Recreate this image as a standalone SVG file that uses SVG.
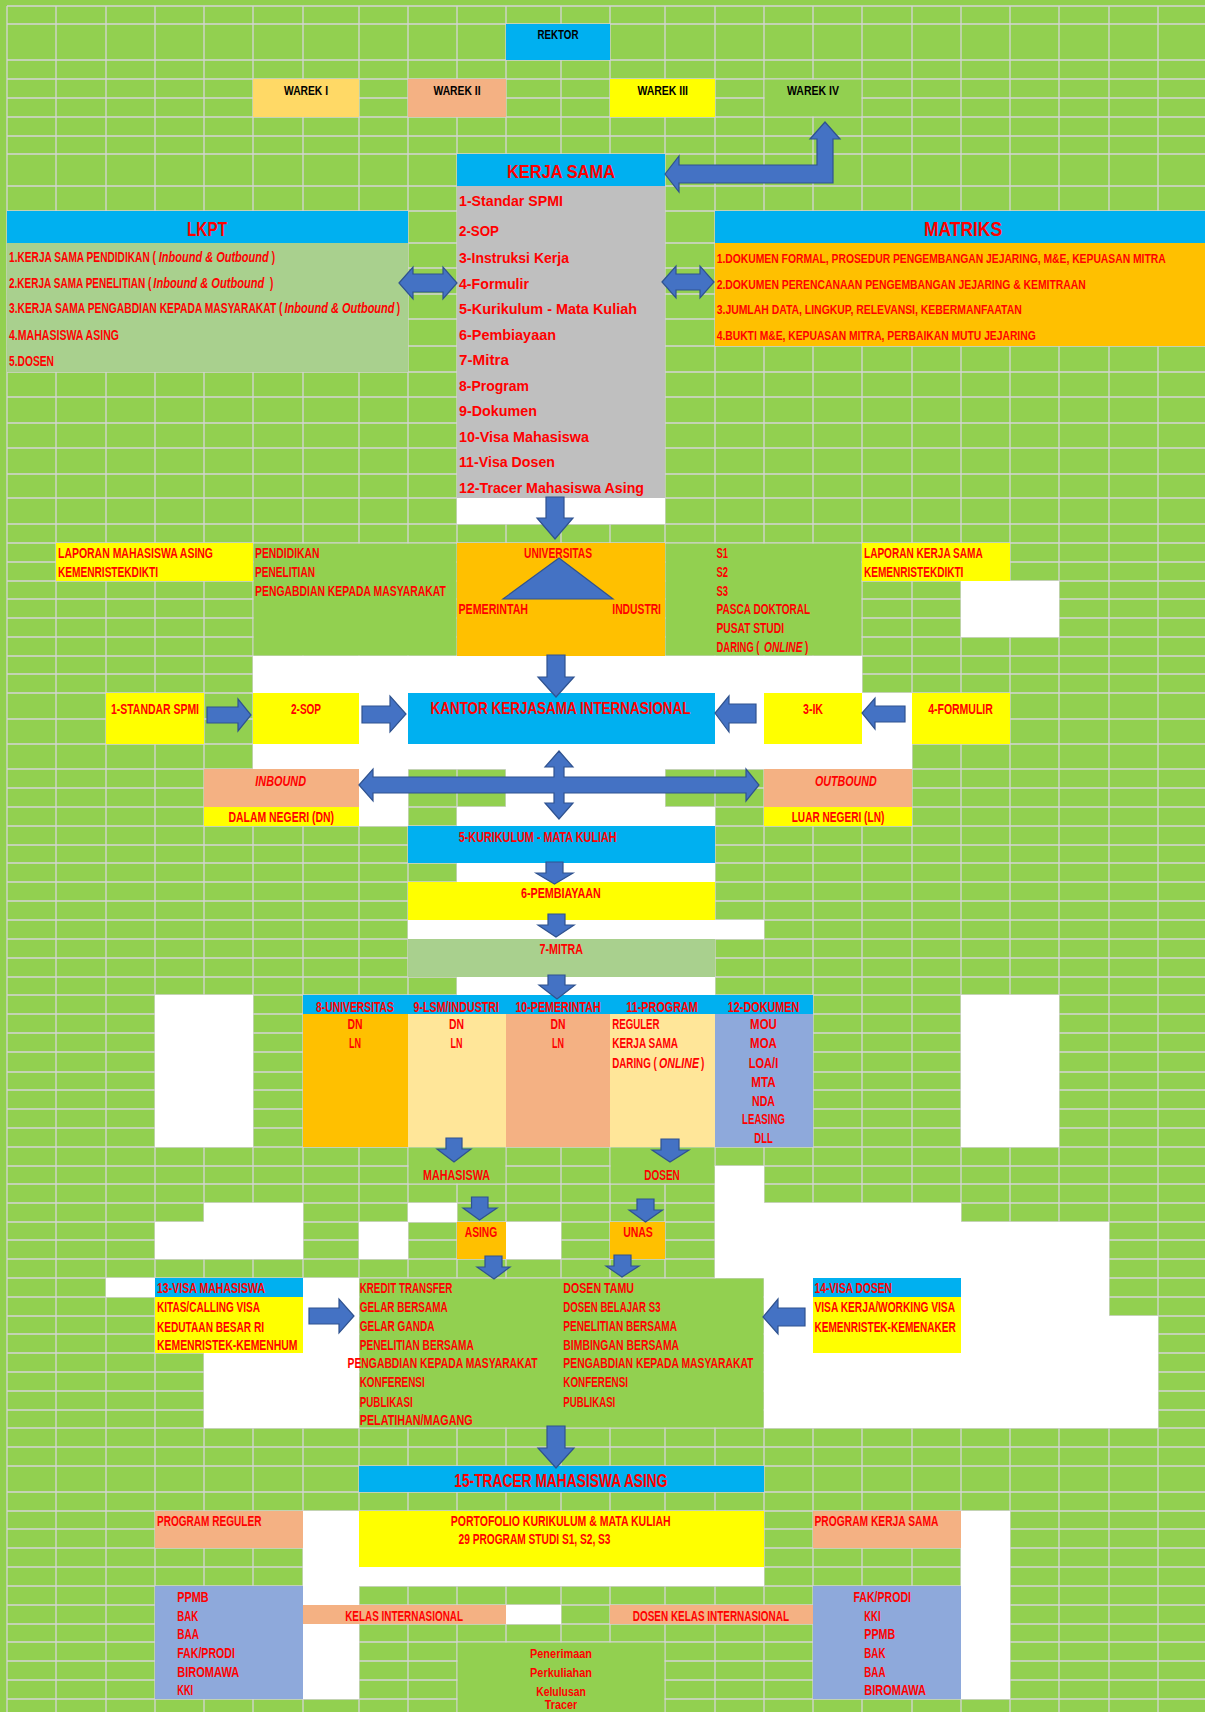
<svg xmlns="http://www.w3.org/2000/svg" width="1205" height="1712" viewBox="0 0 1205 1712">
<style>
.bg{fill:#92D050}
.grid{stroke:#D4D4D4;stroke-width:1.3;fill:none}
.w{fill:#FFFFFF}
.g{fill:#92D050}
.blue{fill:#00B0F0}
.yel{fill:#FFFF00}
.org{fill:#FFC000}
.pch{fill:#F4B183}
.lyl{fill:#FFE699}
.gld{fill:#FFD966}
.lgr{fill:#A9D08E}
.gry{fill:#BFBFBF}
.bgr{fill:#8EA9DB}
.arr{fill:#4472C4;stroke:#2F528F;stroke-width:1.2;stroke-linejoin:miter}
text{font-family:"Liberation Sans Narrow","Liberation Sans",Arial,sans-serif;font-weight:bold;fill:#FF0000;font-size:14px}
.k{fill:#000000;font-size:12.5px}
.t20{font-size:20px}
.t19{font-size:19px}
.t18{font-size:18px}
.t16{font-size:16.5px}
.t15{font-size:15.5px}
.t145{font-size:14.5px}
.t13{font-size:13.5px}
.t12{font-size:12.5px}
.m13{font-size:13px}
.i{font-style:italic}
</style>
<rect class="bg" x="0" y="0" width="1205" height="1712"/>
<path class="grid" d="M7 6V1712M56 6V1712M106 6V1712M155 6V1712M204 6V1712M253 6V1712M303 6V1712M359 6V1712M408 6V1712M457 6V1712M506 6V1712M561 6V1712M610 6V1712M665 6V1712M715 6V1712M764 6V1712M813 6V1712M862 6V1712M912 6V1712M961 6V1712M1010 6V1712M1059 6V1712M1109 6V1712M1158 6V1712
M7 6H1205M7 24H1205M7 60H1205M7 79H1205M7 98H1205M7 117H1205M7 136H1205M7 154H1205M7 186H1205M7 211H1205M7 243H1205M7 268H1205M7 294H1205M7 319H1205M7 346H1205M7 372H1205M7 397H1205M7 423H1205M7 448H1205M7 474H1205M7 498H1205M7 524H1205M7 543H1205M7 562H1205M7 581H1205M7 599H1205M7 618H1205M7 637H1205M7 656H1205M7 674H1205M7 693H1205M7 719H1205M7 744H1205M7 769H1205M7 788H1205M7 807H1205M7 826H1205M7 845H1205M7 863H1205M7 882H1205M7 901H1205M7 920H1205M7 939H1205M7 958H1205M7 977H1205M7 995H1205M7 1014H1205M7 1033H1205M7 1052H1205M7 1072H1205M7 1090H1205M7 1109H1205M7 1128H1205M7 1147H1205M7 1166H1205M7 1184H1205M7 1203H1205M7 1222H1205M7 1240H1205M7 1259H1205M7 1278H1205M7 1297H1205M7 1316H1205M7 1334H1205M7 1353H1205M7 1372H1205M7 1391H1205M7 1410H1205M7 1428H1205M7 1447H1205M7 1466H1205M7 1492H1205M7 1511H1205M7 1529H1205M7 1548H1205M7 1567H1205M7 1586H1205M7 1605H1205M7 1624H1205M7 1642H1205M7 1661H1205M7 1680H1205M7 1699H1205"/>

<g id="cells">
<rect class="w" x="961" y="581" width="98" height="56"/>
<rect class="w" x="253" y="656" width="609" height="37"/>
<rect class="w" x="359" y="693" width="49" height="51"/>
<rect class="w" x="715" y="693" width="49" height="51"/>
<rect class="w" x="862" y="693" width="50" height="51"/>
<rect class="w" x="253" y="744" width="659" height="25"/>
<rect class="w" x="359" y="769" width="49" height="57"/>
<rect class="w" x="506" y="769" width="159" height="38"/>
<rect class="w" x="457" y="807" width="258" height="19"/>
<rect class="w" x="457" y="863" width="258" height="19"/>
<rect class="w" x="408" y="920" width="356" height="19"/>
<rect class="w" x="457" y="977" width="258" height="18"/>
<rect class="w" x="155" y="995" width="98" height="152"/>
<rect class="w" x="961" y="995" width="98" height="152"/>
<rect class="w" x="715" y="1166" width="49" height="112"/>
<rect class="w" x="764" y="1203" width="197" height="75"/>
<rect class="w" x="961" y="1222" width="148" height="94"/>
<rect class="w" x="764" y="1278" width="49" height="75"/>
<rect class="w" x="961" y="1316" width="197" height="112"/>
<rect class="w" x="764" y="1353" width="197" height="75"/>
<rect class="w" x="204" y="1203" width="99" height="19"/>
<rect class="w" x="155" y="1222" width="148" height="37"/>
<rect class="w" x="359" y="1222" width="49" height="37"/>
<rect class="w" x="408" y="1203" width="49" height="19"/>
<rect class="w" x="506" y="1222" width="55" height="37"/>
<rect class="w" x="106" y="1278" width="49" height="19"/>
<rect class="w" x="303" y="1278" width="56" height="150"/>
<rect class="w" x="204" y="1353" width="99" height="75"/>
<rect class="w" x="303" y="1511" width="56" height="188"/>
<rect class="w" x="303" y="1567" width="461" height="19"/>
<rect class="w" x="506" y="1605" width="55" height="19"/>
<rect class="w" x="961" y="1511" width="49" height="188"/>
<rect class="g" x="253.7" y="543.7" width="202.6" height="111.6"/>
<rect class="g" x="665.7" y="543.7" width="195.6" height="111.6"/>
<rect class="g" x="408.7" y="1147.7" width="96.6" height="35.6"/>
<rect class="g" x="610.7" y="1147.7" width="103.6" height="35.6"/>
<rect class="g" x="359.7" y="1278.7" width="403.6" height="148.6"/>
<rect class="g" x="457.7" y="1642.7" width="206.6" height="70"/>
</g>

<g id="rektor"><rect class="blue" x="506" y="24" width="104" height="36"/><text class="k" x="558" y="39" text-anchor="middle" textLength="41" lengthAdjust="spacingAndGlyphs">REKTOR</text></g>
<g id="warek1"><rect class="gld" x="253" y="79" width="106" height="38"/><text class="k" x="306" y="94.5" text-anchor="middle" textLength="44" lengthAdjust="spacingAndGlyphs">WAREK I</text></g>
<g id="warek2"><rect class="pch" x="408" y="79" width="98" height="38"/><text class="k" x="457" y="94.5" text-anchor="middle" textLength="47" lengthAdjust="spacingAndGlyphs">WAREK II</text></g>
<g id="warek3"><rect class="yel" x="610" y="79" width="105" height="38"/><text class="k" x="662.7" y="94.5" text-anchor="middle" textLength="50.6" lengthAdjust="spacingAndGlyphs">WAREK III</text></g>
<g id="warek4"><rect class="g" x="764.7" y="79.7" width="96.6" height="36.6"/><text class="k" x="813" y="94.5" text-anchor="middle" textLength="52" lengthAdjust="spacingAndGlyphs">WAREK IV</text></g>

<g id="kerja-sama">
<rect class="blue" x="457" y="154" width="208" height="32"/>
<rect class="gry" x="457" y="186" width="208" height="312"/>
<rect class="w" x="457" y="498" width="208" height="26"/>
<text class="t19" x="561" y="178" text-anchor="middle" textLength="108" lengthAdjust="spacingAndGlyphs">KERJA SAMA</text>
<text class="t15" x="459" y="206" textLength="104" lengthAdjust="spacingAndGlyphs">1-Standar SPMI</text>
<text class="t15" x="459" y="236" textLength="40" lengthAdjust="spacingAndGlyphs">2-SOP</text>
<text class="t15" x="459" y="262.5" textLength="110" lengthAdjust="spacingAndGlyphs">3-Instruksi Kerja</text>
<text class="t15" x="459" y="288.5" textLength="70" lengthAdjust="spacingAndGlyphs">4-Formulir</text>
<text class="t15" x="459" y="313.5" textLength="178" lengthAdjust="spacingAndGlyphs">5-Kurikulum - Mata Kuliah</text>
<text class="t15" x="459" y="339.5" textLength="97" lengthAdjust="spacingAndGlyphs">6-Pembiayaan</text>
<text class="t15" x="459" y="364.5" textLength="50" lengthAdjust="spacingAndGlyphs">7-Mitra</text>
<text class="t15" x="459" y="390.5" textLength="70" lengthAdjust="spacingAndGlyphs">8-Program</text>
<text class="t15" x="459" y="415.5" textLength="78" lengthAdjust="spacingAndGlyphs">9-Dokumen</text>
<text class="t15" x="459" y="441.5" textLength="130" lengthAdjust="spacingAndGlyphs">10-Visa Mahasiswa</text>
<text class="t15" x="459" y="466.5" textLength="96" lengthAdjust="spacingAndGlyphs">11-Visa Dosen</text>
<text class="t15" x="459" y="492.5" textLength="185" lengthAdjust="spacingAndGlyphs">12-Tracer Mahasiswa Asing</text>
</g>

<g id="lkpt">
<rect class="blue" x="7" y="211" width="401" height="32"/>
<rect class="lgr" x="7" y="243" width="401" height="129"/>
<text class="t20" x="207" y="236" text-anchor="middle" textLength="40" lengthAdjust="spacingAndGlyphs">LKPT</text>
<text class="t145" transform="translate(9 262) scale(0.696 1)" textLength="211.1" lengthAdjust="spacingAndGlyphs">1.KERJA SAMA PENDIDIKAN (</text>
<text class="t145 i" transform="translate(158.7 262) scale(0.759 1)" textLength="145" lengthAdjust="spacingAndGlyphs">Inbound &amp; Outbound</text>
<text class="t145" x="271.7" y="262" textLength="3.3" lengthAdjust="spacingAndGlyphs">)</text>
<text class="t145" transform="translate(9 288) scale(0.688 1)" textLength="207" lengthAdjust="spacingAndGlyphs">2.KERJA SAMA PENELITIAN (</text>
<text class="t145 i" transform="translate(153.3 288) scale(0.766 1)" textLength="145" lengthAdjust="spacingAndGlyphs">Inbound &amp; Outbound</text>
<text class="t145" x="270" y="288" textLength="3.3" lengthAdjust="spacingAndGlyphs">)</text>
<text class="t145" transform="translate(9 312.6) scale(0.7 1)" textLength="390.7" lengthAdjust="spacingAndGlyphs">3.KERJA SAMA PENGABDIAN KEPADA MASYARAKAT (</text>
<text class="t145 i" transform="translate(284.5 312.6) scale(0.759 1)" textLength="145" lengthAdjust="spacingAndGlyphs">Inbound &amp; Outbound</text>
<text class="t145" x="396.7" y="312.6" textLength="3.3" lengthAdjust="spacingAndGlyphs">)</text>
<text class="t145" x="9" y="340.3" textLength="110" lengthAdjust="spacingAndGlyphs">4.MAHASISWA ASING</text>
<text class="t145" x="9" y="366" textLength="45" lengthAdjust="spacingAndGlyphs">5.DOSEN</text>
</g>

<g id="matriks">
<rect class="blue" x="715" y="211" width="490" height="32"/>
<rect class="org" x="715" y="243" width="490" height="103"/>
<text class="t20" x="963" y="236" text-anchor="middle" textLength="78" lengthAdjust="spacingAndGlyphs">MATRIKS</text>
<text class="m13" transform="translate(716.7 263.3) scale(0.795 1)" textLength="564.8" lengthAdjust="spacingAndGlyphs">1.DOKUMEN FORMAL, PROSEDUR PENGEMBANGAN JEJARING, M&amp;E, KEPUASAN MITRA</text>
<text class="m13" x="716.7" y="289.3" textLength="369" lengthAdjust="spacingAndGlyphs">2.DOKUMEN PERENCANAAN PENGEMBANGAN JEJARING &amp; KEMITRAAN</text>
<text class="m13" x="716.7" y="314" textLength="305" lengthAdjust="spacingAndGlyphs">3.JUMLAH DATA, LINGKUP, RELEVANSI, KEBERMANFAATAN</text>
<text class="m13" x="716.7" y="340" textLength="319" lengthAdjust="spacingAndGlyphs">4.BUKTI M&amp;E, KEPUASAN MITRA, PERBAIKAN MUTU JEJARING</text>
</g>

<g id="laporan-mahasiswa">
<rect class="yel" x="56" y="543" width="197" height="38"/>
<text transform="translate(58 558.3) scale(0.741 1)" textLength="209.2" lengthAdjust="spacingAndGlyphs">LAPORAN MAHASISWA ASING</text>
<text x="58" y="576.7" textLength="100" lengthAdjust="spacingAndGlyphs">KEMENRISTEKDIKTI</text>
</g>
<g id="bidang">
<text x="255" y="558.3" textLength="64.6" lengthAdjust="spacingAndGlyphs">PENDIDIKAN</text>
<text x="255" y="576.7" textLength="60" lengthAdjust="spacingAndGlyphs">PENELITIAN</text>
<text x="255" y="595.7" textLength="190.8" lengthAdjust="spacingAndGlyphs">PENGABDIAN KEPADA MASYARAKAT</text>
</g>
<g id="universitas">
<rect class="org" x="457" y="543" width="208" height="113"/>
<polygon class="arr" points="559,558 503,599 613,599"/>
<text x="558" y="558.3" text-anchor="middle" textLength="68" lengthAdjust="spacingAndGlyphs">UNIVERSITAS</text>
<text x="458.5" y="614.3" textLength="69.5" lengthAdjust="spacingAndGlyphs">PEMERINTAH</text>
<text x="612.3" y="614.3" textLength="48.7" lengthAdjust="spacingAndGlyphs">INDUSTRI</text>
</g>
<g id="jenjang">
<text x="716.5" y="558.3" textLength="11.6" lengthAdjust="spacingAndGlyphs">S1</text>
<text x="716.5" y="576.7" textLength="11.6" lengthAdjust="spacingAndGlyphs">S2</text>
<text x="716.5" y="595.7" textLength="11.6" lengthAdjust="spacingAndGlyphs">S3</text>
<text x="716.5" y="614.3" textLength="93.7" lengthAdjust="spacingAndGlyphs">PASCA DOKTORAL</text>
<text x="716.5" y="633" textLength="67.5" lengthAdjust="spacingAndGlyphs">PUSAT STUDI</text>
<text transform="translate(716.5 652) scale(0.674 1)" textLength="63.8" lengthAdjust="spacingAndGlyphs">DARING (</text>
<text class="i" transform="translate(764 652) scale(0.728 1)" textLength="52.9" lengthAdjust="spacingAndGlyphs">ONLINE</text>
<text x="805" y="652" textLength="3.3" lengthAdjust="spacingAndGlyphs">)</text>
</g>
<g id="laporan-kerja-sama">
<rect class="yel" x="862" y="543" width="148" height="38"/>
<text x="864" y="558.3" textLength="118.7" lengthAdjust="spacingAndGlyphs">LAPORAN KERJA SAMA</text>
<text x="864" y="576.7" textLength="99.4" lengthAdjust="spacingAndGlyphs">KEMENRISTEKDIKTI</text>
</g>

<g id="standar-spmi"><rect class="yel" x="106" y="693" width="98" height="51"/><text x="111" y="714" textLength="88" lengthAdjust="spacingAndGlyphs">1-STANDAR SPMI</text></g>
<g id="sop"><rect class="yel" x="253" y="693" width="106" height="51"/><text x="306" y="714" text-anchor="middle" textLength="30" lengthAdjust="spacingAndGlyphs">2-SOP</text></g>
<g id="kantor"><rect class="blue" x="408" y="693" width="307" height="51"/><text class="t16" x="430.5" y="713.5" textLength="260" lengthAdjust="spacingAndGlyphs">KANTOR KERJASAMA INTERNASIONAL</text></g>
<g id="ik"><rect class="yel" x="764" y="693" width="98" height="51"/><text x="813" y="714" text-anchor="middle" textLength="20" lengthAdjust="spacingAndGlyphs">3-IK</text></g>
<g id="formulir"><rect class="yel" x="912" y="693" width="98" height="51"/><text x="960.5" y="714" text-anchor="middle" textLength="64.7" lengthAdjust="spacingAndGlyphs">4-FORMULIR</text></g>
<g id="inbound">
<rect class="pch" x="204" y="769" width="155" height="38"/>
<rect class="yel" x="204" y="807" width="155" height="19"/>
<text class="i" x="255.3" y="785.7" textLength="50.7" lengthAdjust="spacingAndGlyphs">INBOUND</text>
<text x="228.5" y="822.3" textLength="105.5" lengthAdjust="spacingAndGlyphs">DALAM NEGERI (DN)</text>
</g>
<g id="outbound">
<rect class="pch" x="764" y="769" width="148" height="38"/>
<rect class="yel" x="764" y="807" width="148" height="19"/>
<text class="i" x="815" y="785.7" textLength="61.7" lengthAdjust="spacingAndGlyphs">OUTBOUND</text>
<text x="791.7" y="822.3" textLength="92.6" lengthAdjust="spacingAndGlyphs">LUAR NEGERI (LN)</text>
</g>
<g id="kurikulum"><rect class="blue" x="408" y="826" width="307" height="37"/><text x="458.7" y="841.7" textLength="158" lengthAdjust="spacingAndGlyphs">5-KURIKULUM - MATA KULIAH</text></g>
<g id="pembiayaan"><rect class="yel" x="408" y="882" width="307" height="38"/><text x="521" y="898.3" textLength="79.7" lengthAdjust="spacingAndGlyphs">6-PEMBIAYAAN</text></g>
<g id="mitra"><rect class="lgr" x="408" y="939" width="307" height="38"/><text x="539.5" y="954.3" textLength="43.5" lengthAdjust="spacingAndGlyphs">7-MITRA</text></g>

<g id="col-universitas">
<rect class="blue" x="303" y="995" width="105" height="19"/><rect class="org" x="303" y="1014" width="105" height="133"/>
<text x="316" y="1011.7" textLength="78" lengthAdjust="spacingAndGlyphs">8-UNIVERSITAS</text>
<text x="355" y="1029.3" text-anchor="middle" textLength="15" lengthAdjust="spacingAndGlyphs">DN</text>
<text x="355" y="1048.3" text-anchor="middle" textLength="12" lengthAdjust="spacingAndGlyphs">LN</text>
</g>
<g id="col-lsm">
<rect class="blue" x="408" y="995" width="98" height="19"/><rect class="lyl" x="408" y="1014" width="98" height="133"/>
<text x="413.5" y="1011.7" textLength="85.5" lengthAdjust="spacingAndGlyphs">9-LSM/INDUSTRI</text>
<text x="456.5" y="1029.3" text-anchor="middle" textLength="15" lengthAdjust="spacingAndGlyphs">DN</text>
<text x="456.5" y="1048.3" text-anchor="middle" textLength="12" lengthAdjust="spacingAndGlyphs">LN</text>
</g>
<g id="col-pemerintah">
<rect class="blue" x="506" y="995" width="104" height="19"/><rect class="pch" x="506" y="1014" width="104" height="133"/>
<text x="515.4" y="1011.7" textLength="85.3" lengthAdjust="spacingAndGlyphs">10-PEMERINTAH</text>
<text x="558" y="1029.3" text-anchor="middle" textLength="15" lengthAdjust="spacingAndGlyphs">DN</text>
<text x="558" y="1048.3" text-anchor="middle" textLength="12" lengthAdjust="spacingAndGlyphs">LN</text>
</g>
<g id="col-program">
<rect class="blue" x="610" y="995" width="105" height="19"/><rect class="lyl" x="610" y="1014" width="105" height="133"/>
<text x="626.3" y="1011.7" textLength="71.6" lengthAdjust="spacingAndGlyphs">11-PROGRAM</text>
<text x="612.2" y="1029.3" textLength="47.4" lengthAdjust="spacingAndGlyphs">REGULER</text>
<text x="612.2" y="1048.3" textLength="65.8" lengthAdjust="spacingAndGlyphs">KERJA SAMA</text>
<text transform="translate(612.2 1067.7) scale(0.698 1)" textLength="63.8" lengthAdjust="spacingAndGlyphs">DARING (</text>
<text class="i" transform="translate(659 1067.7) scale(0.756 1)" textLength="52.9" lengthAdjust="spacingAndGlyphs">ONLINE</text>
<text x="701" y="1067.7" textLength="3.3" lengthAdjust="spacingAndGlyphs">)</text>
</g>
<g id="col-dokumen">
<rect class="blue" x="715" y="995" width="98" height="19"/><rect class="bgr" x="715" y="1014" width="98" height="133"/>
<text x="727.8" y="1011.7" textLength="71.6" lengthAdjust="spacingAndGlyphs">12-DOKUMEN</text>
<text x="763.5" y="1029.3" text-anchor="middle" textLength="26.8" lengthAdjust="spacingAndGlyphs">MOU</text>
<text x="763.5" y="1048.3" text-anchor="middle" textLength="26.8" lengthAdjust="spacingAndGlyphs">MOA</text>
<text x="763.5" y="1067.7" text-anchor="middle" textLength="29.5" lengthAdjust="spacingAndGlyphs">LOA/I</text>
<text x="763.5" y="1086.7" text-anchor="middle" textLength="24.5" lengthAdjust="spacingAndGlyphs">MTA</text>
<text x="763.5" y="1105.7" text-anchor="middle" textLength="23" lengthAdjust="spacingAndGlyphs">NDA</text>
<text x="763.5" y="1124.3" text-anchor="middle" textLength="42.9" lengthAdjust="spacingAndGlyphs">LEASING</text>
<text x="763.5" y="1142.7" text-anchor="middle" textLength="18.4" lengthAdjust="spacingAndGlyphs">DLL</text>
</g>

<g id="mahasiswa"><text x="456.5" y="1180" text-anchor="middle" textLength="67" lengthAdjust="spacingAndGlyphs">MAHASISWA</text></g>
<g id="dosen"><text x="662" y="1180" text-anchor="middle" textLength="35.5" lengthAdjust="spacingAndGlyphs">DOSEN</text></g>
<g id="asing"><rect class="org" x="457" y="1222" width="49" height="37"/><text x="481" y="1237.3" text-anchor="middle" textLength="32.5" lengthAdjust="spacingAndGlyphs">ASING</text></g>
<g id="unas"><rect class="org" x="610" y="1222" width="55" height="37"/><text x="638" y="1237.3" text-anchor="middle" textLength="29.7" lengthAdjust="spacingAndGlyphs">UNAS</text></g>

<g id="visa-mahasiswa">
<rect class="blue" x="155" y="1278" width="148" height="19"/><rect class="yel" x="155" y="1297" width="148" height="56"/>
<text x="157" y="1293.3" textLength="108" lengthAdjust="spacingAndGlyphs">13-VISA MAHASISWA</text>
<text x="157" y="1312.3" textLength="103" lengthAdjust="spacingAndGlyphs">KITAS/CALLING VISA</text>
<text x="157" y="1331.7" textLength="107" lengthAdjust="spacingAndGlyphs">KEDUTAAN BESAR RI</text>
<text x="157" y="1350" textLength="140.5" lengthAdjust="spacingAndGlyphs">KEMENRISTEK-KEMENHUM</text>
</g>
<g id="kegiatan-mahasiswa">
<text x="359.7" y="1293.3" textLength="92.6" lengthAdjust="spacingAndGlyphs">KREDIT TRANSFER</text>
<text x="359.7" y="1312.3" textLength="88" lengthAdjust="spacingAndGlyphs">GELAR BERSAMA</text>
<text x="359.7" y="1331" textLength="74.7" lengthAdjust="spacingAndGlyphs">GELAR GANDA</text>
<text x="359.7" y="1350" textLength="114" lengthAdjust="spacingAndGlyphs">PENELITIAN BERSAMA</text>
<text transform="translate(347.5 1368.3) scale(0.73 1)" textLength="260.5" lengthAdjust="spacingAndGlyphs">PENGABDIAN KEPADA MASYARAKAT</text>
<text x="359.7" y="1387.3" textLength="65" lengthAdjust="spacingAndGlyphs">KONFERENSI</text>
<text x="359.7" y="1406.7" textLength="53" lengthAdjust="spacingAndGlyphs">PUBLIKASI</text>
<text x="359.7" y="1425" textLength="113" lengthAdjust="spacingAndGlyphs">PELATIHAN/MAGANG</text>
</g>
<g id="kegiatan-dosen">
<text x="563.3" y="1293.3" textLength="70.7" lengthAdjust="spacingAndGlyphs">DOSEN TAMU</text>
<text x="563.3" y="1312.3" textLength="97.3" lengthAdjust="spacingAndGlyphs">DOSEN BELAJAR S3</text>
<text x="563.3" y="1331" textLength="113.7" lengthAdjust="spacingAndGlyphs">PENELITIAN BERSAMA</text>
<text x="563.3" y="1350" textLength="115.8" lengthAdjust="spacingAndGlyphs">BIMBINGAN BERSAMA</text>
<text transform="translate(563.3 1368.3) scale(0.73 1)" textLength="260.5" lengthAdjust="spacingAndGlyphs">PENGABDIAN KEPADA MASYARAKAT</text>
<text x="563.3" y="1387.3" textLength="64.7" lengthAdjust="spacingAndGlyphs">KONFERENSI</text>
<text x="563.3" y="1406.7" textLength="52" lengthAdjust="spacingAndGlyphs">PUBLIKASI</text>
</g>
<g id="visa-dosen">
<rect class="blue" x="813" y="1278" width="148" height="19"/><rect class="yel" x="813" y="1297" width="148" height="56"/>
<text x="814.5" y="1293.3" textLength="77.5" lengthAdjust="spacingAndGlyphs">14-VISA DOSEN</text>
<text x="814.5" y="1312.3" textLength="140.5" lengthAdjust="spacingAndGlyphs">VISA KERJA/WORKING VISA</text>
<text x="814.5" y="1331.7" textLength="141.2" lengthAdjust="spacingAndGlyphs">KEMENRISTEK-KEMENAKER</text>
</g>

<g id="tracer"><rect class="blue" x="359" y="1466" width="405" height="26"/><text class="t18" x="454.3" y="1486.5" textLength="213.2" lengthAdjust="spacingAndGlyphs">15-TRACER MAHASISWA ASING</text></g>
<g id="program-reguler"><rect class="pch" x="155" y="1511" width="148" height="37"/><text x="157" y="1526" textLength="104.4" lengthAdjust="spacingAndGlyphs">PROGRAM REGULER</text></g>
<g id="portofolio">
<rect class="yel" x="359" y="1511" width="405" height="56"/>
<text x="450.8" y="1526" textLength="219.8" lengthAdjust="spacingAndGlyphs">PORTOFOLIO KURIKULUM &amp; MATA KULIAH</text>
<text x="458.5" y="1544.3" textLength="152" lengthAdjust="spacingAndGlyphs">29 PROGRAM STUDI S1, S2, S3</text>
</g>
<g id="program-kerja-sama"><rect class="pch" x="813" y="1511" width="148" height="37"/><text x="814.5" y="1526" textLength="123.9" lengthAdjust="spacingAndGlyphs">PROGRAM KERJA SAMA</text></g>
<g id="unit-reguler">
<rect class="bgr" x="155" y="1586" width="148" height="113"/>
<text x="177.2" y="1601.7" textLength="31.4" lengthAdjust="spacingAndGlyphs">PPMB</text>
<text x="177.2" y="1620.7" textLength="21" lengthAdjust="spacingAndGlyphs">BAK</text>
<text x="177.2" y="1639.3" textLength="21.8" lengthAdjust="spacingAndGlyphs">BAA</text>
<text x="177.2" y="1657.7" textLength="57.8" lengthAdjust="spacingAndGlyphs">FAK/PRODI</text>
<text x="177.2" y="1676.7" textLength="62" lengthAdjust="spacingAndGlyphs">BIROMAWA</text>
<text x="177.2" y="1695" textLength="16" lengthAdjust="spacingAndGlyphs">KKI</text>
</g>
<g id="kelas-internasional"><rect class="pch" x="303" y="1605" width="203" height="19"/><text x="345.2" y="1620.7" textLength="117.8" lengthAdjust="spacingAndGlyphs">KELAS INTERNASIONAL</text></g>
<g id="dosen-kelas-internasional"><rect class="pch" x="610" y="1605" width="203" height="19"/><text x="632.8" y="1620.7" textLength="156.2" lengthAdjust="spacingAndGlyphs">DOSEN KELAS INTERNASIONAL</text></g>
<g id="tahapan">
<text class="t13" x="561" y="1657.7" text-anchor="middle" textLength="62" lengthAdjust="spacingAndGlyphs">Penerimaan</text>
<text class="t13" x="561" y="1676.7" text-anchor="middle" textLength="62" lengthAdjust="spacingAndGlyphs">Perkuliahan</text>
<text class="t13" x="561" y="1695.7" text-anchor="middle" textLength="49.7" lengthAdjust="spacingAndGlyphs">Kelulusan</text>
<text class="t12" x="561" y="1708.5" text-anchor="middle" textLength="32.5" lengthAdjust="spacingAndGlyphs">Tracer</text>
</g>
<g id="unit-kerja-sama">
<rect class="bgr" x="813" y="1586" width="148" height="113"/>
<text x="853.5" y="1601.7" textLength="57.5" lengthAdjust="spacingAndGlyphs">FAK/PRODI</text>
<text x="864.3" y="1620.7" textLength="16.2" lengthAdjust="spacingAndGlyphs">KKI</text>
<text x="864.3" y="1639.3" textLength="30.9" lengthAdjust="spacingAndGlyphs">PPMB</text>
<text x="864.3" y="1657.7" textLength="21.2" lengthAdjust="spacingAndGlyphs">BAK</text>
<text x="864.3" y="1676.7" textLength="21.2" lengthAdjust="spacingAndGlyphs">BAA</text>
<text x="864.3" y="1695" textLength="61.7" lengthAdjust="spacingAndGlyphs">BIROMAWA</text>
</g>

<g id="connectors">
<path class="arr" d="M665,174 L679,156 L679,165 L817,165 L817,139 L810,139 L825,122 L840,139 L833,139 L833,183 L679,183 L679,192 Z"/>
<path class="arr" d="M399,283 L413,267 L413,274 L443,274 L443,267 L457,283 L443,299 L443,292 L413,292 L413,299 Z"/>
<path class="arr" d="M662,282 L676,266 L676,274 L700,274 L700,266 L714,282 L700,298 L700,290 L676,290 L676,298 Z"/>
<path class="arr" d="M546,497 L564,497 L564,518 L573,518 L555,539 L537,518 L546,518 Z"/>
<path class="arr" d="M547,655 L565,655 L565,677 L574,677 L556,697 L538,677 L547,677 Z"/>
<path class="arr" d="M207,707 L238,707 L238,699 L251,715 L238,731 L238,723 L207,723 Z"/>
<path class="arr" d="M362,706 L390,706 L390,696 L406,714 L390,732 L390,723 L362,723 Z"/>
<path class="arr" d="M756,704 L729,704 L729,696 L715,713 L729,732 L729,723 L756,723 Z"/>
<path class="arr" d="M905,706 L875,706 L875,698 L862,713 L875,729 L875,722 L905,722 Z"/>
<path class="arr" d="M359,785 L373,769 L373,777 L554,777 L554,767 L545,767 L559,751 L573,767 L564,767 L564,777 L746,777 L746,769 L759,785 L746,801 L746,793 L564,793 L564,803 L573,803 L559,819 L545,803 L554,803 L554,793 L373,793 L373,801 Z"/>
<path class="arr" d="M546,862 L563,862 L563,873 L573,873 L554.5,884 L536,873 L546,873 Z"/>
<path class="arr" d="M548,914 L565,914 L565,925 L574,925 L556,937 L538,925 L548,925 Z"/>
<path class="arr" d="M548,975 L565,975 L565,985 L575,985 L557,999 L539,985 L548,985 Z"/>
<path class="arr" d="M446,1138 L462,1138 L462,1149 L471,1149 L454,1162 L437,1149 L446,1149 Z"/>
<path class="arr" d="M661,1139 L679,1139 L679,1150 L689,1150 L670,1162 L652,1150 L661,1150 Z"/>
<path class="arr" d="M471.5,1197 L488,1197 L488,1208 L497,1208 L479.5,1220 L463,1208 L471.5,1208 Z"/>
<path class="arr" d="M485,1256 L502,1256 L502,1267 L510,1267 L494,1279 L477,1267 L485,1267 Z"/>
<path class="arr" d="M637,1199 L654,1199 L654,1210 L662.5,1210 L645.5,1222 L629,1210 L637,1210 Z"/>
<path class="arr" d="M614,1255 L631,1255 L631,1266 L639,1266 L622,1277 L606,1266 L614,1266 Z"/>
<path class="arr" d="M309,1308 L339,1308 L339,1299 L354,1316 L339,1333 L339,1324 L309,1324 Z"/>
<path class="arr" d="M805,1308 L778,1308 L778,1299 L763,1317 L778,1334 L778,1326 L805,1326 Z"/>
<path class="arr" d="M547,1426 L565,1426 L565,1448 L574,1448 L556,1468 L538,1448 L547,1448 Z"/>
</g>
</svg>
